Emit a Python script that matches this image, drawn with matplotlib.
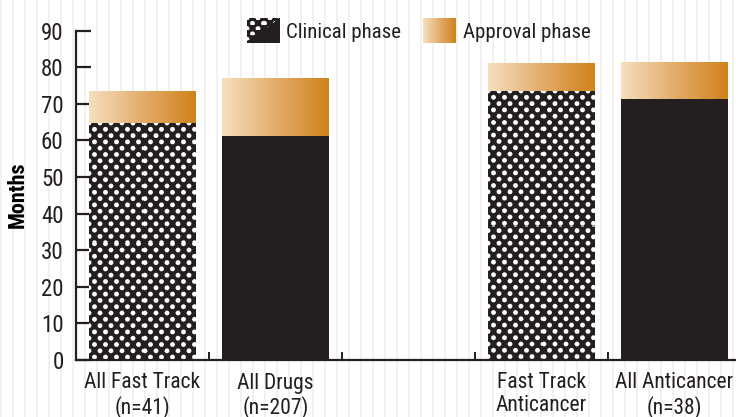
import numpy as np
import matplotlib
matplotlib.use("Agg")
import matplotlib.pyplot as plt
from matplotlib.colors import LinearSegmentedColormap, to_rgba
from matplotlib.image import BboxImage
from matplotlib.legend_handler import HandlerBase
from matplotlib.patches import Rectangle
from matplotlib.transforms import Bbox, TransformedBbox

# ── data (months) ──
categories = ["All Fast Track\n(n=41)", "All Drugs\n(n=207)", "",
              "Fast Track\nAnticancer", "All Anticancer\n(n=38)"]
clinical = [64.5, 61.2, np.nan, 73.3, 71.4]
approval = [8.8, 15.8, np.nan, 7.9, 10.1]
fast_track = [True, False, False, True, False]   # dotted fill for the Fast Track groups

INK = "#231f20"
STRIPE = "#f4eeee"
grad = LinearSegmentedColormap.from_list("approval", ["#f6dfbf", "#e3ad6c", "#d0821a"])

plt.rcParams["font.family"] = ["Roboto Condensed", "Archivo Narrow", "Liberation Sans Narrow",
                               "Sofia Sans Condensed", "DejaVu Sans"]
plt.rcParams["text.color"] = INK


def dot_texture(h, w, split=False):
    """white-dot-on-black print screen, h x w pixels (RGBA)."""
    yy, xx = np.mgrid[0:h, 0:w] + 0.5
    dx, dy, r = 11.0, 6.3, 2.4
    row = np.round(yy / dy)
    off = (row % 2) * dx / 2
    cx = np.round((xx - off) / dx) * dx + off
    d = np.hypot(xx - cx, yy - row * dy)
    a = np.clip(r + 0.5 - d, 0, 1)
    if split:  # dots only in the upper-left half
        a[yy / h > 1 - xx / w] = 0
    ink = np.array(to_rgba(INK))
    return ink * (1 - a[..., None]) + np.array([1, 1, 1, 1.0]) * a[..., None]


class SplitSwatch(HandlerBase):
    def create_artists(self, legend, orig, xd, yd, w, h, fs, trans):
        bb = TransformedBbox(Bbox.from_bounds(-xd, -yd, w, h), trans)
        im = BboxImage(bb, interpolation="nearest")
        im.set_data(dot_texture(30, 32, split=True))
        return [im]


class GradientSwatch(HandlerBase):
    def create_artists(self, legend, orig, xd, yd, w, h, fs, trans):
        bb = TransformedBbox(Bbox.from_bounds(-xd, -yd, w, h), trans)
        im = BboxImage(bb, interpolation="bilinear")
        im.set_data(grad(np.tile(np.linspace(0, 1, 64), (4, 1))))
        return [im]


fig = plt.figure(figsize=(7.36, 4.17), dpi=100)

# faint vertical pinstripes behind everything
bg = fig.add_axes([0, 0, 1, 1], zorder=-1)
bg.set_axis_off()
bg.set_xlim(0, 736)
bg.set_ylim(0, 417)
bg.vlines(np.arange(1, 736, 12), 0, 417, color=STRIPE, lw=1.2)

ax = fig.add_axes([76 / 736, 57 / 417, 665 / 736, 329.5 / 417])
ax.patch.set_alpha(0)
ax.set_xlim(-0.5, 4.5)
ax.set_ylim(0, 90)

x = np.arange(len(categories))
low = ax.bar(x, clinical, width=0.8, color=INK, lw=0, zorder=2)
top = ax.bar(x, approval, bottom=clinical, width=0.8, color="none", lw=0, zorder=2)

# dotted screen for the Fast Track clinical bars, pixel-aligned
for p, dotted in zip(low.patches, fast_track):
    if not dotted or np.isnan(p.get_height()):
        continue
    x0, y0, bw, bh = p.get_x(), p.get_y(), p.get_width(), p.get_height()
    (px0, py0), (px1, py1) = ax.transData.transform([(x0, y0), (x0 + bw, y0 + bh)])
    tex = dot_texture(int(round(py1 - py0)), int(round(px1 - px0)))
    ax.imshow(tex, aspect="auto", interpolation="nearest", zorder=2.5,
              extent=(x0, x0 + bw, y0, y0 + bh))

# left-to-right colour ramp for the approval segments
ramp = np.linspace(0, 1, 256).reshape(1, -1)
for p in top.patches:
    if np.isnan(p.get_height()):
        continue
    x0, y0 = p.get_x(), p.get_y()
    ax.imshow(ramp, cmap=grad, aspect="auto", interpolation="bilinear", zorder=2,
              extent=(x0, x0 + p.get_width(), y0, y0 + p.get_height()))

ax.set_xlim(-0.5, 4.5)
ax.set_ylim(0, 90)
ax.set_yticks(range(0, 91, 10))
ax.set_xticks(x)
ax.set_xticklabels(categories, fontsize=15.5, linespacing=1.12, va="top")
ax.set_xticks(x[:-1] + 0.5, minor=True)

for s in ("top", "right"):
    ax.spines[s].set_visible(False)
for s in ("left", "bottom"):
    ax.spines[s].set_linewidth(1.6)
    ax.spines[s].set_color(INK)

ax.tick_params(axis="y", direction="in", length=11, width=1.6, color=INK,
               labelsize=16.5, labelcolor=INK, pad=9)
ax.tick_params(axis="x", which="major", length=0, pad=9, labelcolor=INK)
ax.tick_params(axis="x", which="minor", direction="in", length=6, width=1.4, color=INK)

ax.set_ylabel("Months", fontsize=16, fontweight="bold")
ax.yaxis.set_label_coords(-47 / 665, 0.5)

h1, h2 = Rectangle((0, 0), 1, 1), Rectangle((0, 0), 1, 1)
fig.legend([h1, h2], ["Clinical phase", "Approval phase"],
           handler_map={h1: SplitSwatch(), h2: GradientSwatch()},
           loc="upper center", bbox_to_anchor=(0.569, 1.0), ncol=2, frameon=False,
           fontsize=15, handlelength=1.55, handleheight=1.4, handletextpad=0.35,
           columnspacing=1.05)

fig.savefig("out.png", dpi=100)
